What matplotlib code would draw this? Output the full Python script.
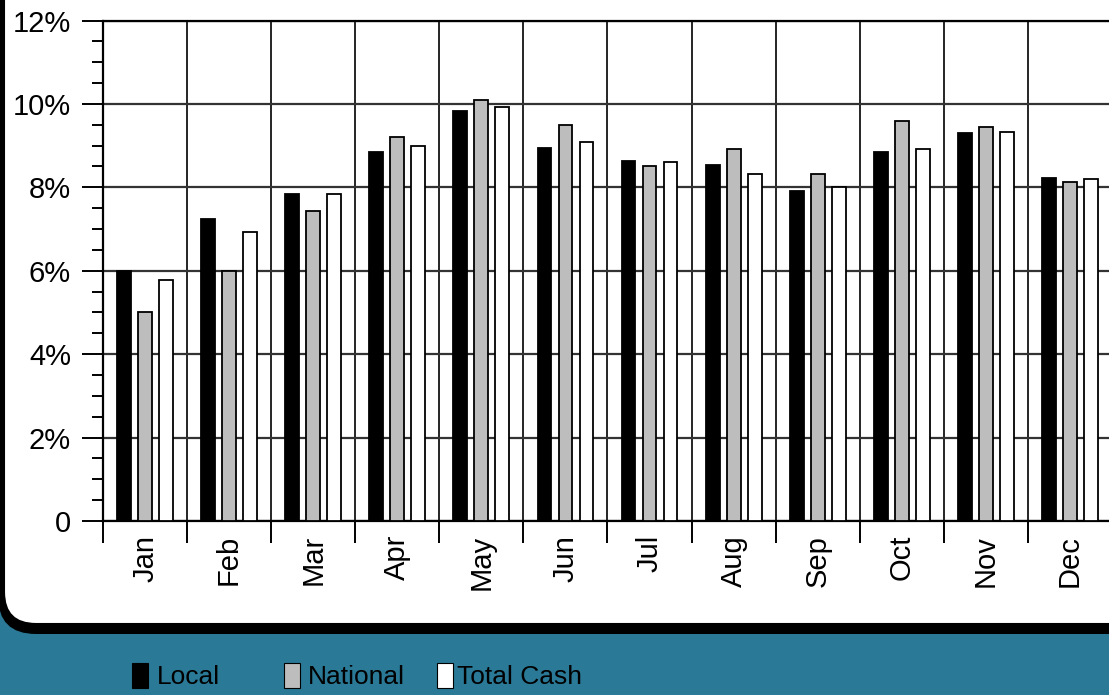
import matplotlib.pyplot as plt
import numpy as np
from matplotlib.patches import FancyBboxPatch, Rectangle
from matplotlib.transforms import IdentityTransform

months = ["Jan", "Feb", "Mar", "Apr", "May", "Jun",
          "Jul", "Aug", "Sep", "Oct", "Nov", "Dec"]
local = [6.0, 7.25, 7.85, 8.85, 9.82, 8.94, 8.63, 8.54, 7.92, 8.84, 9.30, 8.23]
national = [5.01, 6.0, 7.44, 9.21, 10.1, 9.5, 8.51, 8.93, 8.32, 9.59, 9.44, 8.13]
total_cash = [5.78, 6.92, 7.84, 8.98, 9.92, 9.09, 8.6, 8.32, 8.01, 8.93, 9.32, 8.19]
series_names = ["Local", "National", "Total Cash"]
y_ticks = [0, 2, 4, 6, 8, 10, 12]
y_labels = ["0", "2%", "4%", "6%", "8%", "10%", "12%"]

colors = ["#000000", "#bdbdbd", "#ffffff"]
band = "#2a7996"
font = "Liberation Sans"

W, H = 1109, 695
fig = plt.figure(figsize=(W / 100, H / 100), dpi=100)
fig.patch.set_facecolor(band)

# white rounded panel with a heavier black edge along the bottom
shadow = FancyBboxPatch((-2, H - 634), 1300, 800,
                        boxstyle="round,pad=0,rounding_size=38",
                        transform=IdentityTransform(), facecolor="black",
                        edgecolor="none", zorder=0)
panel = FancyBboxPatch((4, H - 624), 1300, 800,
                       boxstyle="round,pad=0,rounding_size=32",
                       transform=IdentityTransform(), facecolor="white",
                       edgecolor="black", linewidth=1.5, zorder=0)
fig.add_artist(shadow)
fig.add_artist(panel)

ax = fig.add_axes([103 / W, 1 - 521 / H, 1009 / W, (521 - 20.5) / H])
ax.set_facecolor("none")

x = np.arange(len(months)) + 0.5
width = 0.165
for i, (vals, c) in enumerate(zip([local, national, total_cash], colors)):
    ax.bar(x + (i - 1) * 0.25, vals, width, color=c, edgecolor="black",
           linewidth=1.3, zorder=3)

ax.set_xlim(0, 12)
ax.set_ylim(0, 12)

# month boundaries carry the grid lines and ticks, centres carry the labels
ax.set_xticks(np.arange(0, 13))
ax.set_xticklabels([])
ax.set_xticks(x, minor=True)
ax.set_xticklabels(months, minor=True, rotation=90, fontsize=21, family=font)
ax.tick_params(axis="x", which="major", length=16, width=1.4, direction="out")
ax.tick_params(axis="x", which="minor", length=0, pad=10)

ax.set_yticks(y_ticks)
ax.set_yticklabels(y_labels, fontsize=21, family=font)
ax.set_yticks(np.arange(0, 12.01, 0.5), minor=True)
ax.tick_params(axis="y", which="major", length=15, width=1.4, pad=8)
ax.tick_params(axis="y", which="minor", length=8, width=1.4)

ax.grid(axis="x", which="major", color="black", linewidth=1.2, zorder=1)
ax.grid(axis="y", which="major", color="#333333", linewidth=1.6, zorder=1)
ax.set_axisbelow(True)

for side in ["left", "bottom", "top"]:
    ax.spines[side].set_linewidth(1.6)
ax.spines["right"].set_visible(False)

# legend in the band below the panel
swatches = [132, 284, 437]
text_x = [157, 308, 457]
for sx, tx, name, c in zip(swatches, text_x, series_names, colors):
    fig.add_artist(Rectangle((sx, H - 688), 16, 25, transform=IdentityTransform(),
                             facecolor=c, edgecolor="black", linewidth=0.8))
    fig.text(tx / W, 1 - 677 / H, name, fontsize=19, family=font,
             color="black", va="center", ha="left")

fig.savefig("out.png", dpi=100, facecolor=fig.get_facecolor())
